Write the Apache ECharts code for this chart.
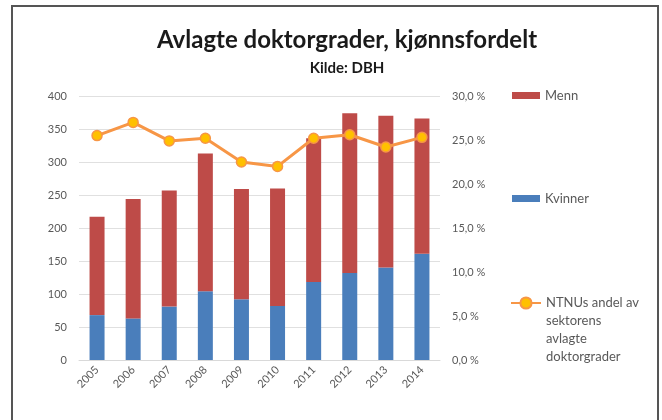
<!DOCTYPE html>
<html>
<head>
<meta charset="utf-8">
<script src="https://cdn.jsdelivr.net/npm/echarts@6/dist/echarts.min.js"></script>
<style>
  html, body { margin: 0; padding: 0; background: #fff; }
  #chart { width: 662px; height: 420px; }
</style>
</head>
<body>
<div id="chart"></div>
<script>
// data
var years = ['2005', '2006', '2007', '2008', '2009', '2010', '2011', '2012', '2013', '2014'];
var kvinner = [68, 63, 81, 104, 92, 82, 118, 132, 140, 161];
var menn = [149, 181, 176, 209, 167, 178, 218, 242, 230, 205];
var ntnuAndel = [25.5, 27.0, 24.9, 25.2, 22.5, 22.0, 25.2, 25.6, 24.2, 25.3];
var leftTicks = [0, 400, 50];
var rightTicks = [0, 30, 5];

var font = 'Lato, "Open Sans", sans-serif';
var chart = echarts.init(document.getElementById('chart'));

var option = {
  backgroundColor: '#fff',
  textStyle: { fontFamily: font },
  title: [
    {
      text: 'Avlagte doktorgrader, kjønnsfordelt',
      left: 342, top: 23, textAlign: 'center',
      textStyle: { fontSize: 24, fontWeight: 'bold', color: '#1a1a1a', fontFamily: font }
    },
    {
      text: 'Kilde: DBH',
      left: 342, top: 56, textAlign: 'center',
      textStyle: { fontSize: 15, fontWeight: 'bold', color: '#1a1a1a', fontFamily: font }
    }
  ],
  graphic: [{
    type: 'rect',
    shape: { x: 12, y: 6, width: 646, height: 440 },
    style: { fill: 'none', stroke: '#555', lineWidth: 2 }
  }],
  legend: [
    {
      data: ['Menn'], left: 512, top: 89, orient: 'vertical', padding: 0,
      itemWidth: 28, itemHeight: 7, icon: 'rect',
      textStyle: { fontSize: 13, color: '#595959', fontFamily: font }
    },
    {
      data: ['Kvinner'], left: 512, top: 192, orient: 'vertical', padding: 0,
      itemWidth: 28, itemHeight: 7, icon: 'rect',
      textStyle: { fontSize: 13, color: '#595959', fontFamily: font }
    },
    {
      // three blank lines first so the icon sits level with the first text line
      data: ['NTNUs andel av sektorens avlagte doktorgrader'],
      left: 510, top: 240, orient: 'vertical', padding: 0,
      itemWidth: 30, itemHeight: 14,
      formatter: function () { return ' \n \n \nNTNUs andel av\nsektorens\navlagte\ndoktorgrader'; },
      textStyle: { fontSize: 13, lineHeight: 18, color: '#595959', fontFamily: font }
    }
  ],
  grid: { left: 79, right: 222, top: 96, bottom: 60 },
  xAxis: {
    type: 'category',
    data: years,
    axisLine: { lineStyle: { color: '#d9d9d9' } },
    axisTick: { show: false },
    axisLabel: { rotate: 45, color: '#595959', fontSize: 11, margin: 8 }
  },
  yAxis: [
    {
      type: 'value', min: leftTicks[0], max: leftTicks[1], interval: leftTicks[2],
      axisLine: { show: false }, axisTick: { show: false },
      axisLabel: { color: '#595959', fontSize: 11, margin: 12 },
      splitLine: { lineStyle: { color: '#e0e0e0' } }
    },
    {
      type: 'value', min: rightTicks[0], max: rightTicks[1], interval: rightTicks[2],
      axisLine: { show: false }, axisTick: { show: false },
      axisLabel: {
        color: '#595959', fontSize: 11, margin: 12,
        formatter: function (v) { return v.toFixed(1).replace('.', ',') + ' %'; }
      },
      splitLine: { show: false }
    }
  ],
  series: [
    {
      name: 'Kvinner', type: 'bar', stack: 'tot', data: kvinner,
      barWidth: 15, itemStyle: { color: '#4a7ebb' }
    },
    {
      name: 'Menn', type: 'bar', stack: 'tot', data: menn,
      barWidth: 15, itemStyle: { color: '#be4b48' }
    },
    {
      name: 'NTNUs andel av sektorens avlagte doktorgrader', type: 'line', yAxisIndex: 1,
      data: ntnuAndel, symbol: 'circle', symbolSize: 10,
      lineStyle: { color: '#f79646', width: 3 },
      itemStyle: { color: '#ffc000', borderColor: '#f79646', borderWidth: 1.5 }
    }
  ]
};
chart.setOption(option);
</script>
</body>
</html>
